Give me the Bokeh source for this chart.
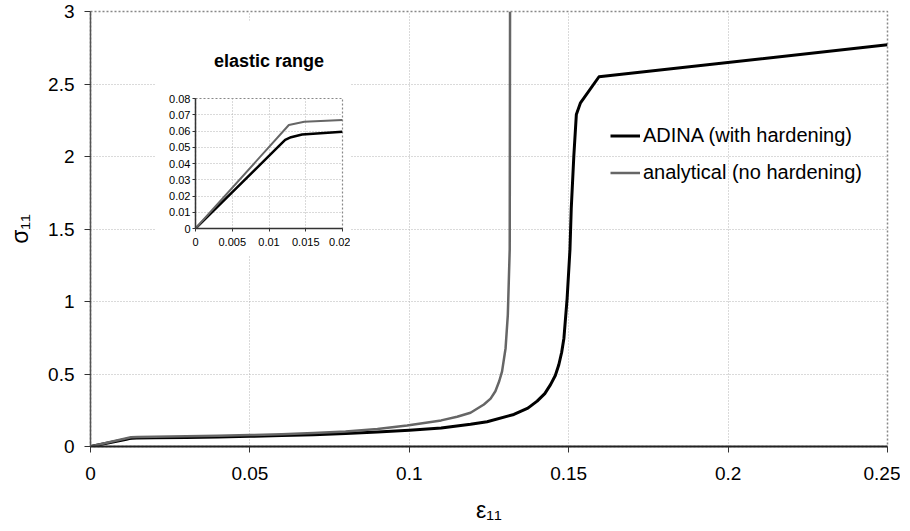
from bokeh.plotting import figure
from bokeh.models import FixedTicker, Legend, LegendItem
from bokeh.embed import file_html
from bokeh.resources import INLINE

# ---------------- data ----------------
adina_x = [0, 0.0113, 0.0122, 0.013, 0.0145, 0.02, 0.03, 0.04, 0.05, 0.06, 0.07, 0.08,
           0.09, 0.1, 0.11, 0.1192, 0.1244, 0.1328, 0.1372, 0.1401, 0.1425, 0.1443,
           0.1458, 0.1469, 0.1478, 0.1485, 0.1495, 0.1504, 0.1508, 0.1516, 0.1524,
           0.1537, 0.1595, 0.25]
adina_y = [0, 0.0505, 0.0545, 0.0562, 0.0578, 0.0595, 0.062, 0.066, 0.07, 0.075, 0.081, 0.089,
           0.1, 0.112, 0.128, 0.153, 0.171, 0.221, 0.265, 0.313, 0.365, 0.427,
           0.49, 0.564, 0.65, 0.747, 1.02, 1.36, 1.64, 2.0, 2.29,
           2.37, 2.55, 2.77]

anal_x = [0, 0.0127, 0.0148, 0.02, 0.03, 0.04, 0.05, 0.06, 0.07, 0.08, 0.09, 0.0993,
          0.11, 0.115, 0.1192, 0.1234, 0.1255, 0.127, 0.1282, 0.1291, 0.1302, 0.1309,
          0.1315, 0.1316]
anal_y = [0, 0.0637, 0.0657, 0.0668, 0.07, 0.074, 0.079, 0.085, 0.093, 0.103, 0.12, 0.145,
          0.18, 0.205, 0.233, 0.29, 0.33, 0.381, 0.45, 0.518, 0.678, 0.906,
          1.36, 3.0]

inset_adina_x = [0, 0.0113, 0.0122, 0.013, 0.0145, 0.02]
inset_adina_y = [0, 0.0505, 0.0545, 0.0562, 0.0578, 0.0595]
inset_anal_x = [0, 0.0127, 0.0148, 0.02]
inset_anal_y = [0, 0.0637, 0.0657, 0.0668]

main_x_ticks = [0, 0.05, 0.1, 0.15, 0.2, 0.25]
main_x_labels = ["0", "0.05", "0.1", "0.15", "0.2", "0.25"]
main_y_ticks = [0, 0.5, 1, 1.5, 2, 2.5, 3]
main_y_labels = ["0", "0.5", "1", "1.5", "2", "2.5", "3"]
inset_x_ticks = [0, 0.005, 0.01, 0.015, 0.02]
inset_x_labels = ["0", "0.005", "0.01", "0.015", "0.02"]
inset_y_ticks = [0, 0.01, 0.02, 0.03, 0.04, 0.05, 0.06, 0.07, 0.08]
inset_y_labels = ["0", "0.01", "0.02", "0.03", "0.04", "0.05", "0.06", "0.07", "0.08"]

series_names = ["ADINA (with hardening)", "analytical (no hardening)"]
series_colors = ["#000000", "#666666"]

FONT = "Liberation Sans"

# ---------------- main figure ----------------
p = figure(width=900, height=525, output_backend="svg", toolbar_location=None,
           x_range=(0, 0.25), y_range=(0, 3),
           min_border_left=90, min_border_right=13, min_border_top=11, min_border_bottom=76)
p.styles = {"position": "absolute", "left": "0px", "top": "0px"}
p.background_fill_color = "white"
p.border_fill_color = "white"
p.outline_line_color = "#888888"
p.outline_line_dash = "2 2"
p.outline_line_width = 1.5

r_adina = p.line(adina_x, adina_y, line_color=series_colors[0], line_width=3, line_join="round")
r_anal = p.line(anal_x, anal_y, line_color=series_colors[1], line_width=2.5, line_join="round")

for ax, ticks, labels in ((p.xaxis[0], main_x_ticks, main_x_labels),
                          (p.yaxis[0], main_y_ticks, main_y_labels)):
    ax.ticker = FixedTicker(ticks=ticks)
    ax.major_label_overrides = {t: l for t, l in zip(ticks, labels)}
    ax.major_label_text_font = FONT
    ax.major_label_text_font_size = "19px"
    ax.major_label_text_color = "black"
    ax.minor_tick_line_color = None
    ax.major_tick_in = 0
    ax.major_tick_out = 6
    ax.major_tick_line_color = "#333333"
    ax.axis_label_text_font = FONT
    ax.axis_label_text_font_size = "23px"
    ax.axis_label_text_font_style = "normal"
    ax.axis_label_text_color = "black"

p.xaxis.axis_label = "ε₁₁"
p.yaxis.axis_label = "σ₁₁"
p.xaxis.axis_line_color = "#222222"
p.xaxis.axis_line_width = 2
p.yaxis.axis_line_color = "#555555"
p.yaxis.axis_line_width = 1.5
p.xaxis.major_label_standoff = 14
p.yaxis.major_label_standoff = 10
p.xaxis.axis_label_standoff = 14
p.yaxis.axis_label_standoff = 12

for g in (p.xgrid[0], p.ygrid[0]):
    g.grid_line_color = "#b5b5b5"
    g.grid_line_dash = "1 2"
    g.grid_line_width = 1

legend = Legend(items=[LegendItem(label=series_names[0], renderers=[r_adina]),
                       LegendItem(label=series_names[1], renderers=[r_anal])],
                location=(520, 262))
legend.border_line_alpha = 0
legend.background_fill_alpha = 0
legend.padding = 0
legend.margin = 0
legend.spacing = 14
legend.glyph_width = 30
legend.glyph_height = 23
legend.label_height = 23
legend.label_standoff = 3
legend.label_text_font = FONT
legend.label_text_font_size = "20px"
legend.label_text_color = "black"
p.add_layout(legend)

# ---------------- inset figure ----------------
q = figure(width=195, height=235, output_backend="svg", toolbar_location=None,
           x_range=(0, 0.02), y_range=(0, 0.08),
           min_border_left=40, min_border_right=8, min_border_top=64, min_border_bottom=27,
           title="elastic range")
q.styles = {"position": "absolute", "left": "155px", "top": "20px"}
q.background_fill_color = "white"
q.border_fill_color = "white"
q.outline_line_color = "#888888"
q.outline_line_dash = "2 2"
q.outline_line_width = 1.2
q.title.text_font = FONT
q.title.text_font_size = "18px"
q.title.text_font_style = "bold"
q.title.text_color = "black"
q.title.align = "center"
q.title.offset = -5
q.title.standoff = 56

q.line(inset_adina_x, inset_adina_y, line_color=series_colors[0], line_width=2.5, line_join="round")
q.line(inset_anal_x, inset_anal_y, line_color=series_colors[1], line_width=2, line_join="round")

for ax, ticks, labels in ((q.xaxis[0], inset_x_ticks, inset_x_labels),
                          (q.yaxis[0], inset_y_ticks, inset_y_labels)):
    ax.ticker = FixedTicker(ticks=ticks)
    ax.major_label_overrides = {t: l for t, l in zip(ticks, labels)}
    ax.major_label_text_font = FONT
    ax.major_label_text_font_size = "11px"
    ax.major_label_text_color = "black"
    ax.minor_tick_line_color = None
    ax.major_tick_in = 0
    ax.major_tick_out = 3
    ax.major_tick_line_color = "#333333"
    ax.axis_line_color = "#333333"
    ax.axis_line_width = 1.5
q.xaxis.major_label_standoff = 6
q.yaxis.major_label_standoff = 2
for g in (q.xgrid[0], q.ygrid[0]):
    g.grid_line_color = "#b5b5b5"
    g.grid_line_dash = "1 2"
    g.grid_line_width = 1

open("out.html", "w").write(file_html([p, q], INLINE))
